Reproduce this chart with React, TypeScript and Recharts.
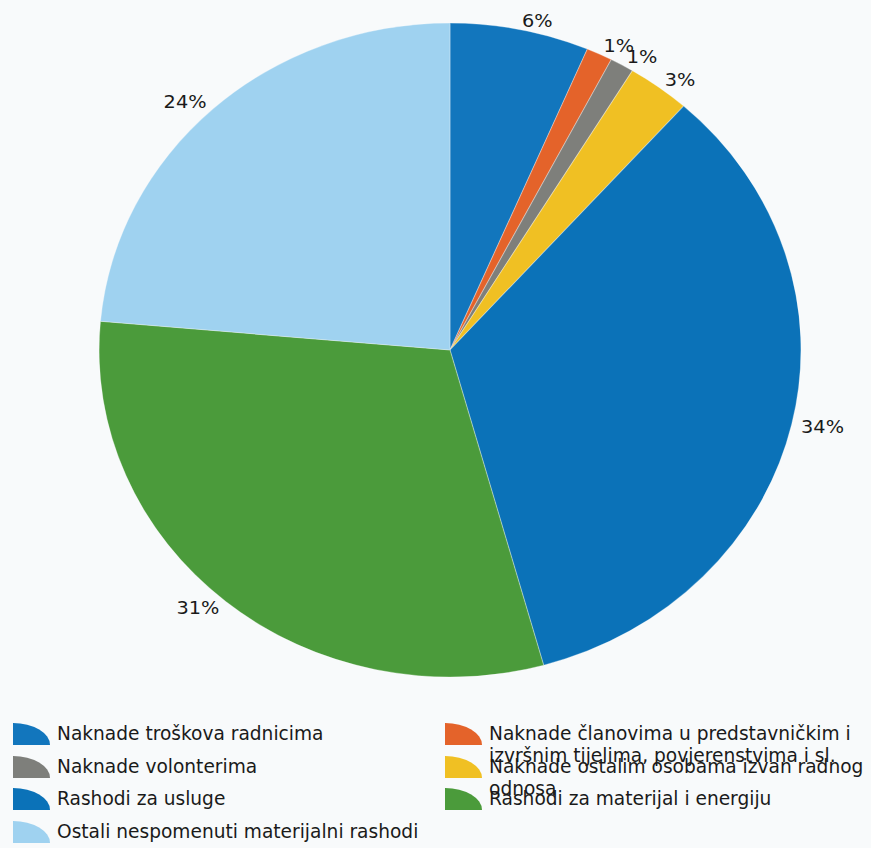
import { PieChart, Pie, Cell, Legend } from 'recharts';

const categories = [
  'Naknade troškova radnicima',
  'Naknade članovima u predstavničkim i izvršnim tijelima, povjerenstvima i sl.',
  'Naknade volonterima',
  'Naknade ostalim osobama izvan radnog odnosa',
  'Rashodi za usluge',
  'Rashodi za materijal i energiju',
  'Ostali nespomenuti materijalni rashodi',
];

// share of each category
const shares = [6.4, 1.2, 1.1, 2.9, 34.1, 30.7, 23.6];

const COLORS = ['#1276bd', '#e4632a', '#7e7f7b', '#f0c023', '#0b72b8', '#4b9b3b', '#9fd2f0'];

const data = categories.map((name, i) => ({ name, value: shares[i] }));

const RAD = Math.PI / 180;
const FONT = '"DejaVu Sans", Verdana, sans-serif';

const renderLabel = (p: any) => {
  const r = p.outerRadius + 9;
  const x = p.cx + r * Math.cos(-p.midAngle * RAD);
  const y = p.cy + r * Math.sin(-p.midAngle * RAD);
  return (
    <text
      x={x}
      y={y}
      fill="#1a1a1a"
      fontSize={18}
      fontFamily={FONT}
      textAnchor={x > p.cx ? 'start' : 'end'}
      dominantBaseline="central"
    >
      {`${Math.round(p.percent * 100)}%`}
    </text>
  );
};

const LegendGrid = () => (
  <div
    style={{
      display: 'grid',
      gridTemplateColumns: '432px 439px',
      gridAutoRows: '32.5px',
      fontFamily: FONT,
      fontSize: 18.6,
      color: '#1a1a1a',
    }}
  >
    {categories.map((name, i) => (
      <div key={name} style={{ position: 'relative', height: 32.5, overflow: 'visible' }}>
        <svg width={37} height={22} style={{ position: 'absolute', left: 13, top: 0 }}>
          <path d="M0,22 L0,0 A37,22 0 0 1 37,22 Z" fill={COLORS[i]} />
        </svg>
        <div
          style={{
            position: 'absolute',
            left: 57,
            top: 0,
            width: i % 2 ? 382 : 370,
            lineHeight: '22px',
            whiteSpace: 'normal',
          }}
        >
          {name}
        </div>
      </div>
    ))}
  </div>
);

export default function App() {
  return (
    <div
      style={{
        position: 'absolute',
        left: 0,
        top: 0,
        width: 871,
        height: 848,
        overflow: 'hidden',
        background: '#f8fafb',
      }}
    >
      <style>{`.recharts-surface { transform: scaleX(1.073); transform-origin: 450px 0; overflow: visible; }`}</style>
      <PieChart width={871} height={848} margin={{ top: 0, right: 0, bottom: 0, left: 0 }}>
        <Pie
          data={data}
          dataKey="value"
          nameKey="name"
          cx={450}
          cy={350}
          outerRadius={327}
          startAngle={90}
          endAngle={-270}
          stroke="#ffffff"
          strokeOpacity={0.3}
          strokeWidth={1}
          label={renderLabel}
          labelLine={false}
          isAnimationActive={false}
        >
          {data.map((d, i) => (
            <Cell key={d.name} fill={COLORS[i]} />
          ))}
        </Pie>
        <Legend
          content={() => <LegendGrid />}
          wrapperStyle={{ position: 'absolute', left: 0, top: 723, width: 871, bottom: 'auto' }}
        />
      </PieChart>
    </div>
  );
}
